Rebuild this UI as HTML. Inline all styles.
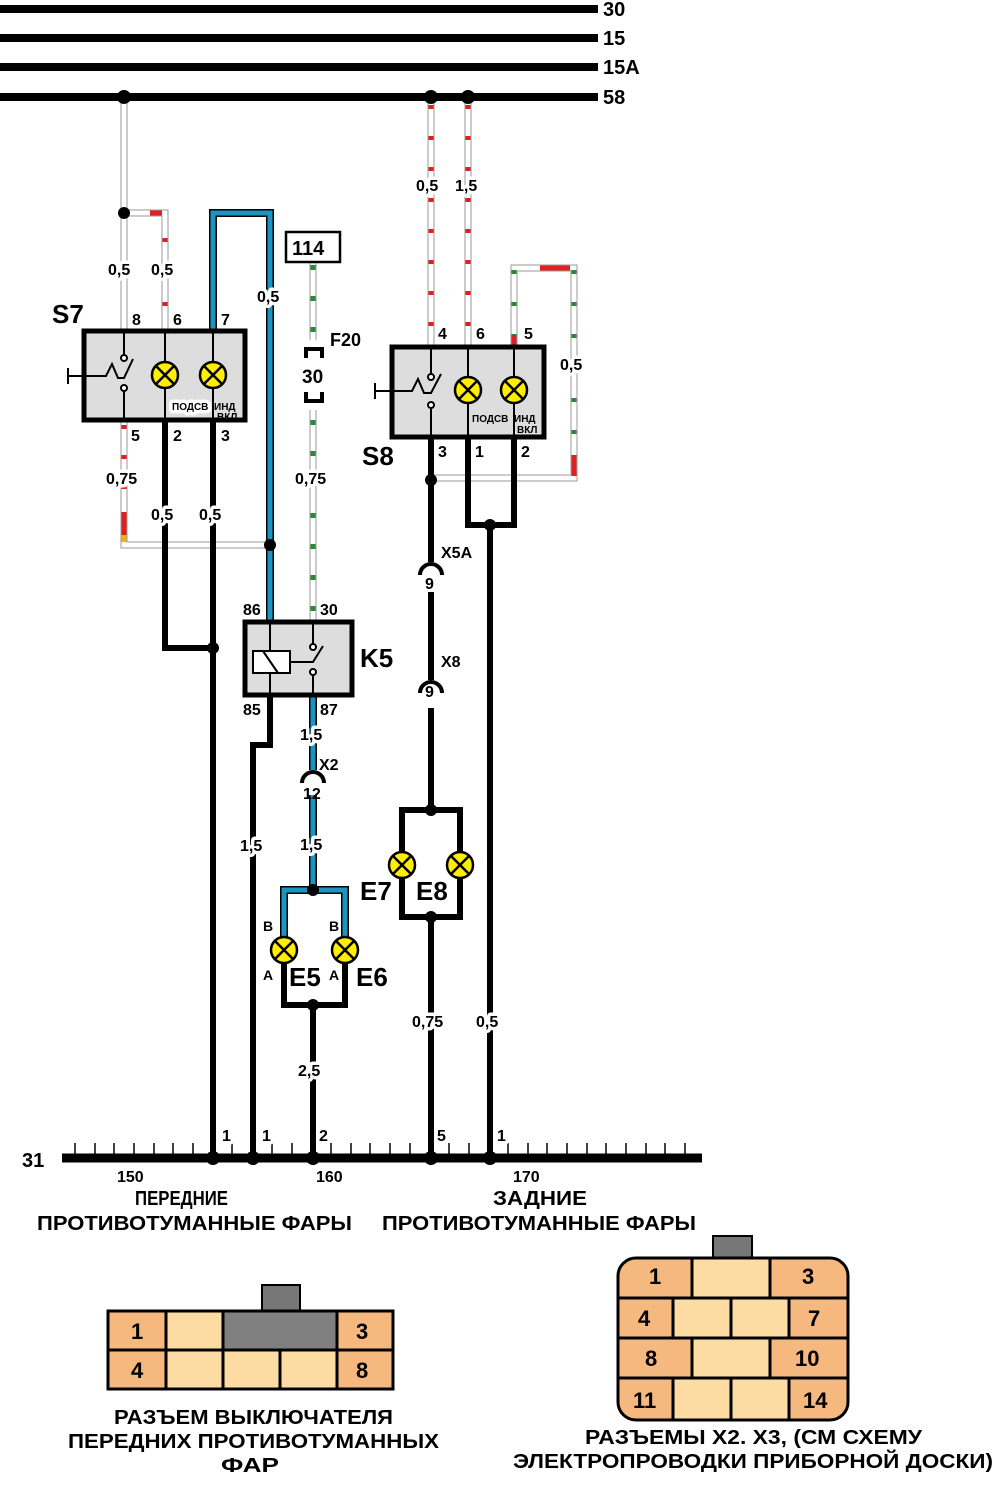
<!DOCTYPE html>
<html><head><meta charset="utf-8"><style>
html,body{margin:0;padding:0;background:#fff}
svg{display:block}
text{font-family:"Liberation Sans",sans-serif;font-weight:bold;fill:#000}
.h{stroke:#fff;stroke-width:7px;paint-order:stroke;stroke-linejoin:round}
</style></head><body>
<svg width="1000" height="1500" viewBox="0 0 1000 1500" xmlns="http://www.w3.org/2000/svg">
<!-- top buses -->
<g stroke="#000" stroke-width="8">
<line x1="0" y1="9" x2="598" y2="9"/><line x1="0" y1="38" x2="598" y2="38"/>
<line x1="0" y1="67" x2="598" y2="67"/><line x1="0" y1="97" x2="598" y2="97"/>
</g>
<g font-size="20"><text x="603" y="16">30</text><text x="603" y="45">15</text><text x="603" y="74">15A</text><text x="603" y="104">58</text></g>

<!-- striped thin wires: outline -->
<g fill="none" stroke="#999" stroke-width="7">
<path d="M124 97V331"/><path d="M124 213H165V331"/>
<path d="M124 420V545H270"/>
<path d="M431 97V347"/><path d="M468 97V347"/>
<path d="M514 347V268H574V478H431"/>
<path d="M313 262V345M313 405V622"/>
</g>
<g fill="none" stroke="#fff" stroke-width="5">
<path d="M124 97V331"/><path d="M124 213H165V331"/>
<path d="M124 420V545H270"/>
<path d="M431 97V347"/><path d="M468 97V347"/>
<path d="M514 347V268H574V478H431"/>
<path d="M313 262V345M313 405V622"/>
</g>
<g fill="none" stroke-width="5">
<path d="M165 238V331" stroke="#e02020" stroke-dasharray="4 28"/>
<path d="M150 213H162" stroke="#e02020"/>
<path d="M124 425V545" stroke="#e02020" stroke-dasharray="4 26"/>
<path d="M124 512V535" stroke="#e02020"/><path d="M124 535V542" stroke="#f0b020"/>
<path d="M431 105V347" stroke="#e02020" stroke-dasharray="4 27"/>
<path d="M468 105V347" stroke="#e02020" stroke-dasharray="4 27"/>
<path d="M514 270V347" stroke="#2a8a3a" stroke-dasharray="4 28"/>
<path d="M574 270V478" stroke="#2a8a3a" stroke-dasharray="4 28"/>
<path d="M574 455V476" stroke="#e02020"/>
<path d="M514 335V345" stroke="#e02020"/>
<path d="M540 268H570" stroke="#e02020"/>
<path d="M313 265V622" stroke="#2a8a3a" stroke-dasharray="5 26"/>
</g>
<!-- fuse -->
<rect x="300" y="340" width="30" height="70" fill="#fff"/>
<path d="M306 358V349H322V358M306 392V401H322V392" fill="none" stroke="#000" stroke-width="4"/>
<text x="302" y="383" font-size="19">30</text>
<text x="330" y="346" font-size="18">F20</text>

<!-- blue wires -->
<g fill="none" stroke="#000" stroke-width="8">
<path d="M213 331V213H270V622"/><path d="M313 695V770M313 795V890M284 950V890H345V950"/>
</g>
<g fill="none" stroke="#1b95c0" stroke-width="5">
<path d="M213 331V213H270V622"/><path d="M313 695V770M313 795V890M284 950V890H345V950"/>
</g>

<!-- black thick wires -->
<g fill="none" stroke="#000" stroke-width="6">
<path d="M165 420V648H213"/><path d="M213 420V1158"/>
<path d="M270 695V745H253V1158"/>
<path d="M284 950V1005H345V950"/><path d="M313 1005V1158"/>
<path d="M468 437V525H514V437"/><path d="M490 525V1158"/>
<path d="M431 437V562M431 592V680M431 708V810"/>
<path d="M402 865V810H460V865M402 865V917H460V865"/><path d="M431 917V1158"/>
</g>

<!-- S7 box -->
<rect x="84" y="331" width="161" height="89" fill="#ddd" stroke="#000" stroke-width="5"/>
<g stroke="#000" stroke-width="2" fill="none">
<path d="M124 331V355M124 385V420M165 331V420M213 331V420"/>
<path d="M68 376H106L112 364L118 378H124L133 359"/><path d="M68 368V384"/>
</g>
<circle cx="124" cy="358" r="3" fill="#fff" stroke="#000" stroke-width="2"/>
<circle cx="124" cy="388" r="3" fill="#fff" stroke="#000" stroke-width="2"/>
<g font-size="10"><text x="172" y="410" class="h">ПОДСВ</text><text x="214" y="410">ИНД</text><text x="217" y="420">ВКЛ</text></g>
<!-- S8 box -->
<rect x="392" y="347" width="152" height="90" fill="#ddd" stroke="#000" stroke-width="5"/>
<g stroke="#000" stroke-width="2" fill="none">
<path d="M431 347V374M431 404V437M468 347V437M514 347V437"/>
<path d="M375 391H412L418 379L424 393H431L441 374"/><path d="M375 383V399"/>
</g>
<circle cx="431" cy="377" r="3" fill="#fff" stroke="#000" stroke-width="2"/>
<circle cx="431" cy="405" r="3" fill="#fff" stroke="#000" stroke-width="2"/>
<g font-size="10"><text x="472" y="422">ПОДСВ</text><text x="514" y="422">ИНД</text><text x="517" y="433">ВКЛ</text></g>

<!-- K5 -->
<rect x="245" y="622" width="107" height="73" fill="#ddd" stroke="#000" stroke-width="5"/>
<g stroke="#000" stroke-width="2" fill="none">
<path d="M270 622V695M313 622V645M313 675V695"/>
<rect x="253" y="651" width="37" height="22" fill="#fff"/><path d="M263 651L278 673"/>
<path d="M290 662H313L323 646"/>
</g>
<circle cx="313" cy="647" r="3" fill="#fff" stroke="#000" stroke-width="2"/>
<circle cx="313" cy="672" r="3" fill="#fff" stroke="#000" stroke-width="2"/>

<!-- connector arcs -->
<g fill="none" stroke="#000" stroke-width="4">
<path d="M420 575A11 11 0 0 1 442 575"/><path d="M420 693A11 11 0 0 1 442 693"/>
<path d="M302 783A11 11 0 0 1 324 783"/>
</g>
<g font-size="16"><text x="425" y="589">9</text><text x="425" y="697">9</text><text x="303" y="799">12</text>
<text x="441" y="558">X5A</text><text x="441" y="667">X8</text><text x="319" y="770">X2</text></g>

<!-- lamps -->
<g stroke="#000" stroke-width="2.5" fill="#ffee00">
<circle cx="165" cy="375" r="13"/><circle cx="213" cy="375" r="13"/>
<circle cx="468" cy="390" r="13"/><circle cx="514" cy="390" r="13"/>
<circle cx="402" cy="865" r="13"/><circle cx="460" cy="865" r="13"/>
<circle cx="284" cy="950" r="13"/><circle cx="345" cy="950" r="13"/>
</g>
<g stroke="#000" stroke-width="2.5">
<path d="M156 366l18 18M174 366l-18 18M204 366l18 18M222 366l-18 18"/>
<path d="M459 381l18 18M477 381l-18 18M505 381l18 18M523 381l-18 18"/>
<path d="M393 856l18 18M411 856l-18 18M451 856l18 18M469 856l-18 18"/>
<path d="M275 941l18 18M293 941l-18 18M336 941l18 18M354 941l-18 18"/>
</g>

<!-- dots -->
<g fill="#000">
<circle cx="124" cy="97" r="7"/><circle cx="431" cy="97" r="7"/><circle cx="468" cy="97" r="7"/>
<circle cx="124" cy="213" r="6"/><circle cx="270" cy="545" r="6"/><circle cx="213" cy="648" r="6"/>
<circle cx="431" cy="480" r="6"/><circle cx="490" cy="525" r="6"/>
<circle cx="313" cy="890" r="6"/><circle cx="313" cy="1005" r="6"/>
<circle cx="431" cy="810" r="6"/><circle cx="431" cy="917" r="6"/>
<circle cx="213" cy="1158" r="7"/><circle cx="253" cy="1158" r="7"/><circle cx="313" cy="1158" r="7"/><circle cx="431" cy="1158" r="7"/><circle cx="490" cy="1158" r="7"/>
</g>

<!-- bus 31 -->
<line x1="62" y1="1158" x2="702" y2="1158" stroke="#000" stroke-width="9"/>
<path stroke="#000" stroke-width="1.5" d="M75 1143V1158M95 1143V1158M114 1143V1158M134 1143V1158M154 1143V1158M173 1143V1158M193 1143V1158M213 1143V1158M232 1143V1158M252 1143V1158M272 1143V1158M292 1143V1158M311 1143V1158M331 1143V1158M351 1143V1158M370 1143V1158M390 1143V1158M410 1143V1158M429 1143V1158M449 1143V1158M469 1143V1158M488 1143V1158M508 1143V1158M528 1143V1158M547 1143V1158M567 1143V1158M587 1143V1158M606 1143V1158M626 1143V1158M646 1143V1158M665 1143V1158M685 1143V1158"/>
<text x="22" y="1167" font-size="20">31</text>
<g font-size="16" class="h"><text x="222" y="1141" class="h">1</text><text x="262" y="1141" class="h">1</text><text x="319" y="1141" class="h">2</text><text x="437" y="1141" class="h">5</text><text x="497" y="1141" class="h">1</text></g>
<g font-size="16"><text x="117" y="1182">150</text><text x="316" y="1182">160</text><text x="513" y="1182">170</text></g>

<!-- labels -->
<g font-size="16">
<text class="h" x="108" y="275">0,5</text><text class="h" x="151" y="275">0,5</text><text class="h" x="257" y="302">0,5</text>
<text x="132" y="325">8</text><text x="173" y="325">6</text><text x="221" y="325">7</text>
<text x="131" y="441">5</text><text x="173" y="441">2</text><text x="221" y="441">3</text>
<text class="h" x="106" y="484">0,75</text><text class="h" x="151" y="520">0,5</text><text class="h" x="199" y="520">0,5</text>
<text class="h" x="295" y="484">0,75</text>
<text class="h" x="416" y="191">0,5</text><text class="h" x="455" y="191">1,5</text>
<text x="438" y="339">4</text><text x="476" y="339">6</text><text x="524" y="339">5</text>
<text class="h" x="560" y="370">0,5</text>
<text x="438" y="457">3</text><text x="475" y="457">1</text><text x="521" y="457">2</text>
<text x="243" y="615">86</text><text x="320" y="615">30</text><text x="243" y="715">85</text><text x="320" y="715">87</text>
<text class="h" x="300" y="740">1,5</text><text class="h" x="300" y="850">1,5</text><text class="h" x="240" y="851">1,5</text>
<text class="h" x="298" y="1076">2,5</text><text class="h" x="412" y="1027">0,75</text><text class="h" x="476" y="1027">0,5</text>
</g>
<g font-size="14"><text x="263" y="931">B</text><text x="329" y="931">B</text><text x="263" y="980">A</text><text x="329" y="980">A</text></g>
<g font-size="26"><text x="52" y="323">S7</text><text x="362" y="465">S8</text><text x="360" y="667">K5</text>
<text x="289" y="986">E5</text><text x="356" y="986">E6</text><text x="360" y="900">E7</text><text x="416" y="900">E8</text></g>
<rect x="286" y="232" width="54" height="30" fill="#fff" stroke="#000" stroke-width="2.5"/>
<text x="292" y="255" font-size="20">114</text>

<g font-size="20">
<text x="135" y="1205" textLength="93" lengthAdjust="spacingAndGlyphs">ПЕРЕДНИЕ</text>
<text x="37" y="1230" textLength="315" lengthAdjust="spacingAndGlyphs">ПРОТИВОТУМАННЫЕ ФАРЫ</text>
<text x="493" y="1205" textLength="94" lengthAdjust="spacingAndGlyphs">ЗАДНИЕ</text>
<text x="382" y="1230" textLength="314" lengthAdjust="spacingAndGlyphs">ПРОТИВОТУМАННЫЕ ФАРЫ</text>
<text x="114" y="1424" textLength="279" lengthAdjust="spacingAndGlyphs">РАЗЪЕМ ВЫКЛЮЧАТЕЛЯ</text>
<text x="68" y="1448" textLength="371" lengthAdjust="spacingAndGlyphs">ПЕРЕДНИХ ПРОТИВОТУМАННЫХ</text>
<text x="221" y="1472" textLength="58" lengthAdjust="spacingAndGlyphs">ФАР</text>
<text x="585" y="1444" textLength="337" lengthAdjust="spacingAndGlyphs">РАЗЪЕМЫ X2. X3, (СМ СХЕМУ</text>
<text x="513" y="1468" textLength="480" lengthAdjust="spacingAndGlyphs">ЭЛЕКТРОПРОВОДКИ ПРИБОРНОЙ ДОСКИ)</text>
</g>

<!-- connector 1 -->
<rect x="262" y="1285" width="38" height="26" fill="#777" stroke="#000" stroke-width="2"/>
<g stroke="#000" stroke-width="3">
<rect x="108" y="1311" width="58" height="39" fill="#f5b87f"/><rect x="166" y="1311" width="57" height="39" fill="#fddca3"/>
<rect x="223" y="1311" width="114" height="39" fill="#808080"/><rect x="337" y="1311" width="56" height="39" fill="#f5b87f"/>
<rect x="108" y="1350" width="58" height="39" fill="#f5b87f"/><rect x="166" y="1350" width="57" height="39" fill="#fddca3"/>
<rect x="223" y="1350" width="57" height="39" fill="#fddca3"/><rect x="280" y="1350" width="57" height="39" fill="#fddca3"/>
<rect x="337" y="1350" width="56" height="39" fill="#f5b87f"/>
</g>
<g font-size="22"><text x="131" y="1339">1</text><text x="356" y="1339">3</text><text x="131" y="1378">4</text><text x="356" y="1378">8</text></g>

<!-- connector 2 -->
<rect x="713" y="1236" width="39" height="22" fill="#777" stroke="#000" stroke-width="2"/>
<defs><clipPath id="c2"><rect x="618" y="1258" width="230" height="162" rx="18"/></clipPath></defs>
<g clip-path="url(#c2)" stroke="#000" stroke-width="3">
<rect x="618" y="1258" width="74" height="40" fill="#f5b87f"/><rect x="692" y="1258" width="78" height="40" fill="#fddca3"/><rect x="770" y="1258" width="78" height="40" fill="#f5b87f"/>
<rect x="618" y="1298" width="55" height="40" fill="#f5b87f"/><rect x="673" y="1298" width="58" height="40" fill="#fddca3"/><rect x="731" y="1298" width="58" height="40" fill="#fddca3"/><rect x="789" y="1298" width="59" height="40" fill="#f5b87f"/>
<rect x="618" y="1338" width="74" height="40" fill="#f5b87f"/><rect x="692" y="1338" width="78" height="40" fill="#fddca3"/><rect x="770" y="1338" width="78" height="40" fill="#f5b87f"/>
<rect x="618" y="1378" width="55" height="42" fill="#f5b87f"/><rect x="673" y="1378" width="58" height="42" fill="#fddca3"/><rect x="731" y="1378" width="58" height="42" fill="#fddca3"/><rect x="789" y="1378" width="59" height="42" fill="#f5b87f"/>
</g>
<rect x="618" y="1258" width="230" height="162" rx="18" fill="none" stroke="#000" stroke-width="3"/>
<g font-size="22"><text x="649" y="1284">1</text><text x="802" y="1284">3</text><text x="638" y="1326">4</text><text x="808" y="1326">7</text>
<text x="645" y="1366">8</text><text x="795" y="1366">10</text><text x="633" y="1408">11</text><text x="803" y="1408">14</text></g>
</svg>
</body></html>
